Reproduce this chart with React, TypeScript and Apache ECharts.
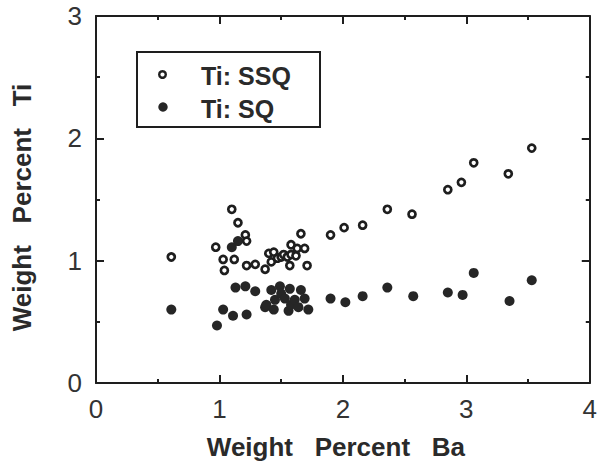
import React, { useEffect, useRef } from "react";
import * as echarts from "echarts";

// Ti: SSQ (open circles)
const ssqBa = [0.61, 0.97, 1.03, 1.04, 1.10, 1.12, 1.15, 1.21, 1.22, 1.22, 1.29, 1.37, 1.40, 1.42, 1.44, 1.47, 1.50, 1.52, 1.55, 1.57, 1.58, 1.58, 1.62, 1.63, 1.66, 1.69, 1.71,
  1.90, 2.01, 2.16, 2.36, 2.56, 2.85, 2.96, 3.06, 3.34, 3.53];
const ssqTi = [1.03, 1.11, 1.01, 0.92, 1.42, 1.01, 1.31, 1.21, 1.16, 0.96, 0.97, 0.93, 1.06, 0.99, 1.07, 1.02, 1.03, 1.05, 1.03, 0.96, 1.13, 1.05, 1.04, 1.10, 1.22, 1.10, 0.96,
  1.21, 1.27, 1.29, 1.42, 1.38, 1.58, 1.64, 1.80, 1.71, 1.92];

// Ti: SQ (filled circles)
const sqBa = [0.61, 0.98, 1.03, 1.11, 1.22, 1.10, 1.15, 1.13, 1.21, 1.29, 1.37, 1.38, 1.42, 1.45, 1.44, 1.49, 1.50, 1.53, 1.56, 1.57, 1.58, 1.61, 1.64, 1.66, 1.69, 1.72,
  1.90, 2.02, 2.16, 2.36, 2.57, 2.85, 2.97, 3.06, 3.35, 3.53];
const sqTi = [0.60, 0.47, 0.60, 0.55, 0.56, 1.11, 1.16, 0.78, 0.79, 0.75, 0.62, 0.64, 0.76, 0.68, 0.60, 0.79, 0.73, 0.69, 0.59, 0.77, 0.64, 0.68, 0.62, 0.76, 0.69, 0.60,
  0.69, 0.66, 0.71, 0.78, 0.71, 0.74, 0.72, 0.90, 0.67, 0.84];

const xTicks = [0, 1, 2, 3, 4];
const yTicks = [0, 1, 2, 3];
const legendLabels = ["Ti: SSQ", "Ti: SQ"];
const xTitle = "Weight   Percent   Ba";
const yTitle = "Weight   Percent   Ti";

const FONT = "'Liberation Sans', Arial, Helvetica, sans-serif";
const INK = "#1e1e1e";

export default function App() {
  const ref = useRef<HTMLDivElement>(null);
  useEffect(() => {
    if (!ref.current) return;
    const chart = echarts.init(ref.current, undefined, { renderer: "svg" });
    const zip = (a: number[], b: number[]) => a.map((v, i) => [v, b[i]]);
    const axisCommon = {
      type: "value" as const,
      splitLine: { show: false },
      axisLine: { show: true, onZero: false, lineStyle: { color: INK, width: 2 } },
      axisTick: { show: true, inside: true, length: 8, lineStyle: { color: INK, width: 2 } },
      minorTick: { show: true, splitNumber: 2, length: 4, lineStyle: { color: INK, width: 2 } },
    };
    chart.setOption({
      animation: false,
      backgroundColor: "#ffffff",
      grid: { left: 96, right: 4, top: 16, bottom: 80 },
      xAxis: [
        {
          ...axisCommon,
          position: "bottom",
          min: xTicks[0],
          max: xTicks[xTicks.length - 1],
          interval: 1,
          axisLabel: { show: true, fontSize: 26, color: "#333", fontFamily: FONT, margin: 13 },
          name: xTitle,
          nameLocation: "middle",
          nameGap: 51,
          nameTextStyle: { fontSize: 26, fontWeight: "bold", color: "#2a2a2a", fontFamily: FONT, padding: [0, 14, 0, 0] },
        },
        {
          ...axisCommon,
          position: "top",
          min: xTicks[0],
          max: xTicks[xTicks.length - 1],
          interval: 1,
          axisLabel: { show: false },
        },
      ],
      yAxis: [
        {
          ...axisCommon,
          position: "left",
          min: yTicks[0],
          max: yTicks[yTicks.length - 1],
          interval: 1,
          axisLabel: { show: true, fontSize: 26, color: "#333", fontFamily: FONT, margin: 14 },
          name: yTitle,
          nameLocation: "middle",
          nameGap: 61,
          nameRotate: 90,
          nameTextStyle: { fontSize: 26, fontWeight: "bold", color: "#2a2a2a", fontFamily: FONT, padding: [0, 16, 0, 0] },
        },
        {
          ...axisCommon,
          position: "right",
          min: yTicks[0],
          max: yTicks[yTicks.length - 1],
          interval: 1,
          axisLabel: { show: false },
        },
      ],
      series: [
        {
          name: legendLabels[0],
          type: "scatter",
          xAxisIndex: 0,
          yAxisIndex: 0,
          symbol: "circle",
          symbolSize: 7,
          itemStyle: { color: "#ffffff", borderColor: INK, borderWidth: 2.7, opacity: 1 },
          data: zip(ssqBa, ssqTi),
          z: 3,
        },
        {
          name: legendLabels[1],
          type: "scatter",
          xAxisIndex: 0,
          yAxisIndex: 0,
          symbol: "circle",
          symbolSize: 10,
          itemStyle: { color: "#262626", opacity: 1 },
          data: zip(sqBa, sqTi),
          z: 2,
        },
      ],
      graphic: [
        {
          type: "rect",
          shape: { x: 137, y: 52, width: 183, height: 75 },
          style: { fill: "#ffffff", stroke: INK, lineWidth: 2 },
          z: 10,
        },
        {
          type: "circle",
          shape: { cx: 162.5, cy: 74.5, r: 3.3 },
          style: { fill: "#ffffff", stroke: INK, lineWidth: 2.4 },
          z: 11,
        },
        {
          type: "circle",
          shape: { cx: 163, cy: 107, r: 4.7 },
          style: { fill: "#262626" },
          z: 11,
        },
        {
          type: "text",
          x: 201,
          y: 76,
          style: { text: legendLabels[0], font: `bold 25px ${FONT}`, fill: "#2a2a2a", verticalAlign: "middle", align: "left" },
          z: 11,
        },
        {
          type: "text",
          x: 201,
          y: 109,
          style: { text: legendLabels[1], font: `bold 25px ${FONT}`, fill: "#2a2a2a", verticalAlign: "middle", align: "left" },
          z: 11,
        },
      ],
    });
    return () => chart.dispose();
  }, []);
  return <div ref={ref} style={{ width: 600, height: 465, position: "absolute", left: 0, top: 0 }} />;
}
